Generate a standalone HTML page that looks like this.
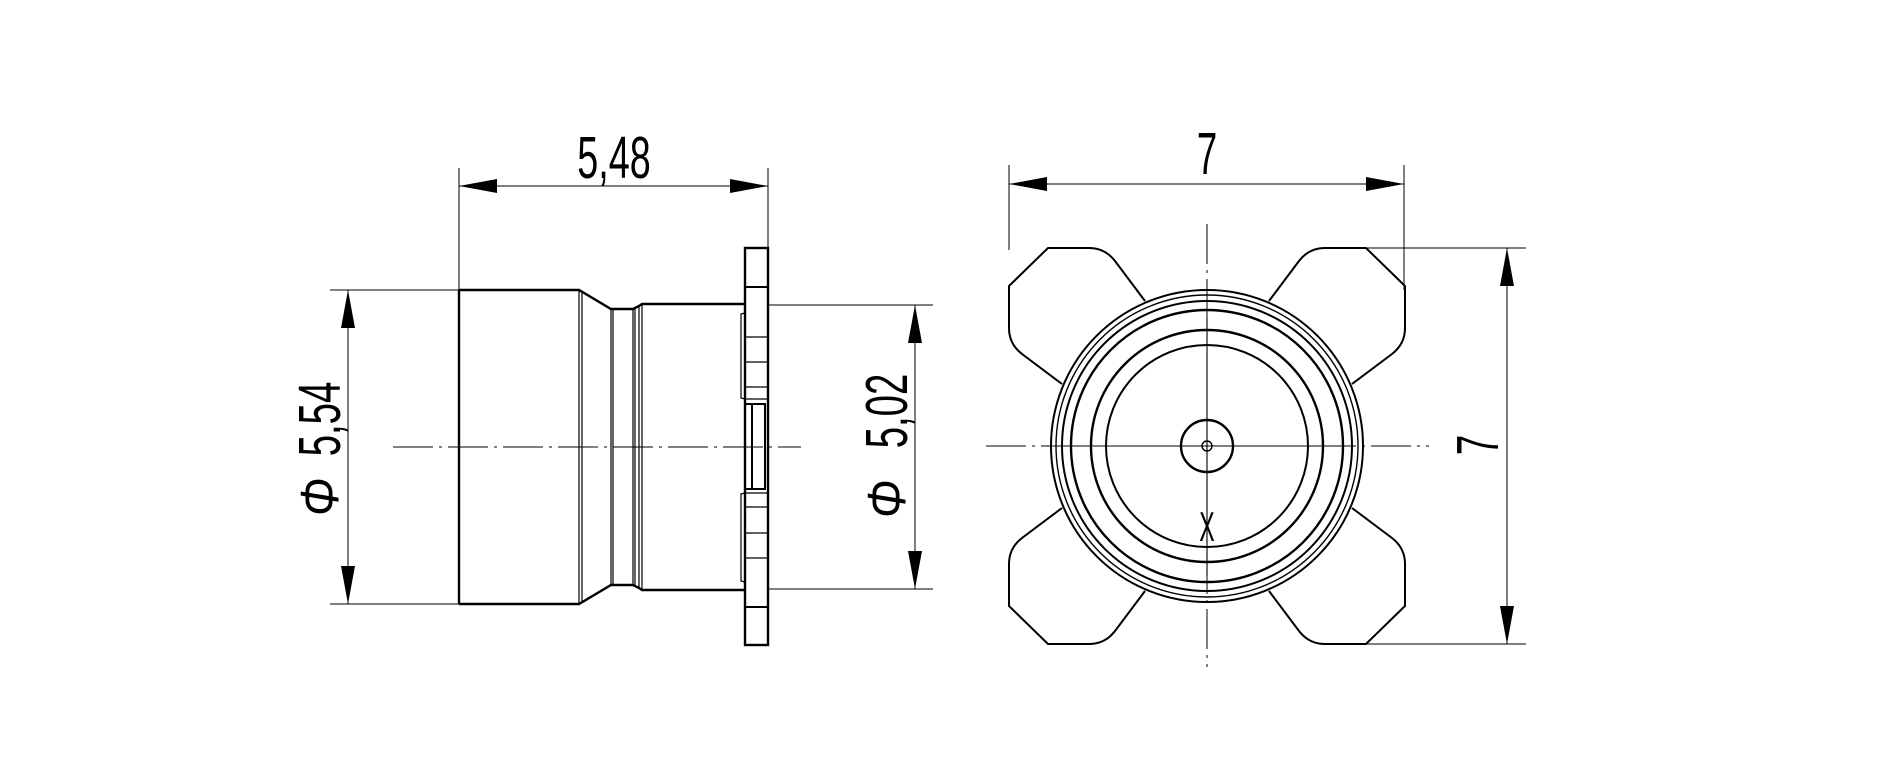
<!DOCTYPE html>
<html><head><meta charset="utf-8"><style>html,body{margin:0;padding:0;background:#fff}svg{display:block}</style></head>
<body>
<svg width="1891" height="775" viewBox="0 0 1891 775" xmlns="http://www.w3.org/2000/svg" font-family="Liberation Sans, sans-serif">
<defs>
<g id="ah"><path d="M0,0 L38,-7 L38,7 Z" fill="#000"/></g>
</defs>
<g fill="none" stroke="#000">
<line x1="459" y1="168" x2="459" y2="290" stroke-width="1"/>
<line x1="768" y1="168" x2="768" y2="248" stroke-width="1"/>
<line x1="459" y1="186" x2="768" y2="186" stroke-width="1"/>
<path d="M459,290 L459,604 M459,290 L579,290 L611,309 L633,309 L639,306 L642,304 L745,304 M459,604 L579,604 L611,585 L633,585 L639,588 L642,590 L745,590" stroke-width="2.4"/>
<g stroke-width="1.2">
<line x1="579" y1="290" x2="579" y2="604"/><line x1="582" y1="291" x2="582" y2="603"/>
<line x1="611" y1="309" x2="611" y2="585"/><line x1="613" y1="309" x2="613" y2="585"/>
<line x1="633" y1="309" x2="633" y2="585"/><line x1="635" y1="309" x2="635" y2="585"/>
<line x1="639" y1="306" x2="639" y2="588"/><line x1="642" y1="304" x2="642" y2="590"/>
</g>
<rect x="745" y="248" width="23" height="397" stroke-width="2.4"/>
<g stroke-width="1.2">
<line x1="745" y1="287" x2="768" y2="287" stroke-width="2"/>
<line x1="745" y1="337" x2="768" y2="337"/>
<line x1="745" y1="362" x2="768" y2="362"/>
<line x1="745" y1="387" x2="768" y2="387"/>
<line x1="745" y1="399" x2="768" y2="399"/>
<line x1="745" y1="493" x2="768" y2="493"/>
<line x1="745" y1="507" x2="768" y2="507"/>
<line x1="745" y1="533" x2="768" y2="533"/>
<line x1="745" y1="558" x2="768" y2="558"/>
<line x1="745" y1="607" x2="768" y2="607" stroke-width="2"/>
<path d="M745,313 L741,314 L741,398 L745,399"/>
<path d="M745,493 L741,494 L741,581 L745,582"/>
<line x1="752" y1="404" x2="752" y2="489" stroke-width="2"/>
<line x1="765" y1="404" x2="765" y2="489" stroke-width="2"/>
</g>
<rect x="745" y="404" width="20" height="85" stroke-width="2"/>
<line x1="330" y1="290" x2="459" y2="290" stroke-width="1"/>
<line x1="330" y1="604" x2="459" y2="604" stroke-width="1"/>
<line x1="348" y1="290" x2="348" y2="604" stroke-width="1"/>
<line x1="768" y1="305" x2="933" y2="305" stroke-width="1"/>
<line x1="768" y1="589" x2="933" y2="589" stroke-width="1"/>
<line x1="915" y1="305" x2="915" y2="589" stroke-width="1"/>
<line x1="393" y1="447" x2="801" y2="447" stroke-width="1" stroke-dasharray="40,6,3,6"/>

<line x1="1009" y1="165" x2="1009" y2="250" stroke-width="1"/>
<line x1="1404" y1="165" x2="1404" y2="290" stroke-width="1"/>
<line x1="1009" y1="184" x2="1404" y2="184" stroke-width="1"/>
<line x1="1366" y1="248" x2="1526" y2="248" stroke-width="1"/>
<line x1="1366" y1="644" x2="1526" y2="644" stroke-width="1"/>
<line x1="1507" y1="248" x2="1507" y2="644" stroke-width="1"/>
<g transform="translate(1207,446)">
<g stroke-width="2">
<path id="pad" d="M-62,-145 L-92,-185 Q-102,-198 -118,-198 L-159,-198 L-198,-160 L-198,-118 Q-198,-102 -185,-92 L-145,-62"/>
<use href="#pad" transform="scale(-1,1)"/>
<use href="#pad" transform="scale(1,-1)"/>
<use href="#pad" transform="scale(-1,-1)"/>
<circle r="156"/><circle r="151" stroke-width="1.4"/><circle r="145"/><circle r="136" stroke-width="2.4"/><circle r="116" stroke-width="2.4"/><circle r="101"/>
<circle r="26" stroke-width="2.4"/><circle r="5" stroke-width="1.4"/>
</g>
<line x1="-221" y1="0" x2="222" y2="0" stroke-width="1" stroke-dasharray="40,6,3,6"/>
<line x1="-131" y1="0" x2="131" y2="0" stroke-width="1.1"/>
<line x1="0" y1="-222" x2="0" y2="221" stroke-width="1" stroke-dasharray="40,6,3,6"/>
<line x1="0" y1="-128" x2="0" y2="130" stroke-width="1.1"/>
</g>
</g>
<use href="#ah" transform="translate(459,186)"/>
<use href="#ah" transform="translate(768,186) rotate(180)"/>
<use href="#ah" transform="translate(348,290) rotate(90)"/>
<use href="#ah" transform="translate(348,604) rotate(-90)"/>
<use href="#ah" transform="translate(915,305) rotate(90)"/>
<use href="#ah" transform="translate(915,589) rotate(-90)"/>
<use href="#ah" transform="translate(1009,184)"/>
<use href="#ah" transform="translate(1404,184) rotate(180)"/>
<use href="#ah" transform="translate(1507,248) rotate(90)"/>
<use href="#ah" transform="translate(1507,644) rotate(-90)"/>
<g fill="#000" font-size="59">
<text transform="translate(614,178) scale(0.64,1)" text-anchor="middle">5,48</text>
<text transform="translate(1207,174) scale(0.62,1)" text-anchor="middle">7</text>
<text transform="translate(1498,445) rotate(-90) scale(0.62,1)" text-anchor="middle">7</text>
<text transform="translate(340,419) rotate(-90) scale(0.65,1)" text-anchor="middle">5,54</text>
<text transform="translate(907,411) rotate(-90) scale(0.65,1)" text-anchor="middle">5,02</text>
<text transform="translate(338,497) rotate(-90) scale(0.85,1)" text-anchor="middle" font-style="italic" font-size="54">Φ</text>
<text transform="translate(905,499) rotate(-90) scale(0.85,1)" text-anchor="middle" font-style="italic" font-size="54">Φ</text>
<text transform="translate(1207,541) scale(0.55,1)" text-anchor="middle" font-size="42">X</text>
</g>
</svg>
</body></html>
